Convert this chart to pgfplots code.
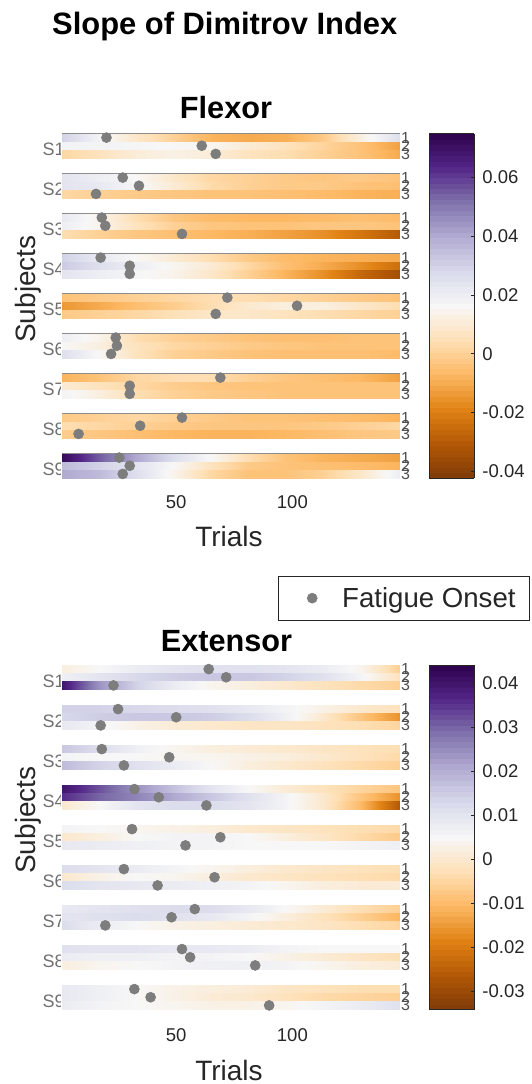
\documentclass[border=0pt]{standalone}
\usepackage{pgfplots}
\pgfplotsset{compat=1.18}
\usetikzlibrary{calc}
\usepackage{fontspec}
\setmainfont{Liberation Sans}
\definecolor{framegray}{HTML}{8C8C8C}
\definecolor{labgray}{HTML}{707070}
\definecolor{numgray}{HTML}{505050}
\definecolor{axtext}{HTML}{262626}
\definecolor{dotgray}{HTML}{7D7D7D}
\pgfplotsset{
  /pgf/number format/assume math mode=true,
  colormap={puor}{rgb255=(127,59,8) rgb255=(179,88,6) rgb255=(224,130,20) rgb255=(253,184,99) rgb255=(254,224,182) rgb255=(247,247,247) rgb255=(216,218,235) rgb255=(178,171,210) rgb255=(128,115,172) rgb255=(84,39,136) rgb255=(45,0,75)},
  subj/.style={
    anchor=north west, scale only axis, width=337pt, height=24.5pt,
    xmin=1, xmax=146, ymin=0.5, ymax=3.5, y dir=reverse,
    xtick=\empty, ytick={1,2,3}, ytick pos=right, yticklabel pos=right,
    tick align=inside, major tick length=2pt,
    axis line style={draw=framegray, line width=0.8pt},
    tick style={draw=framegray, line width=0.6pt},
    yticklabel style={font=\fontsize{16}{16}\selectfont, text=numgray, anchor=west, inner sep=0pt, xshift=1.5pt},
    clip=false, colormap name=puor,
  },
  lastsubj/.style={
    xtick={50,100}, xtick pos=bottom,
    xticklabel style={font=\fontsize{18.5}{18.5}\selectfont, text=axtext, anchor=base, inner sep=0pt, yshift=#1},
    x tick style={draw=axtext, line width=0.6pt}, major tick length=3pt,
  },
  hm/.style={surf, shader=interp, mesh/cols=10, point meta=explicit, forget plot},
  dots/.style={only marks, mark=*, mark size=5pt, color=dotgray, line width=0.6pt},
  flexrange/.style={point meta min=-0.0423, point meta max=0.0749},
  extrange/.style={point meta min=-0.0342, point meta max=0.0442},
  cbar/.style={
    colorbar sampled,
    colorbar style={
      samples=64,
      at={($(parent axis.north east)+(21.4pt,0pt)$)}, anchor=north west,
      scale only axis, width=45pt, height=344.5pt,
      scaled y ticks=false,
      axis line style={draw=axtext, line width=0.8pt},
      ytick pos=right, yticklabel pos=right, tick align=inside, major tick length=3pt,
      tick style={draw=axtext, line width=0.6pt},
      yticklabel style={font=\fontsize{18.5}{18.5}\selectfont, text=axtext, anchor=west, inner sep=0pt, xshift=8pt},
      #1
    }
  },
}
\begin{document}
\begin{tikzpicture}
\useasboundingbox (0,0) rectangle (531pt,-1084pt);
% titles and labels
\node[anchor=base west, inner sep=0pt, font=\fontsize{30.9}{36}\selectfont\bfseries] at (52pt,-34.5pt) {Slope of Dimitrov Index};
\node[anchor=base, inner sep=0pt, font=\fontsize{30.7}{36}\selectfont\bfseries] at (226pt,-118.3pt) {Flexor};
\node[anchor=base, inner sep=0pt, font=\fontsize{30.7}{36}\selectfont\bfseries] at (226.5pt,-651.7pt) {Extensor};
\node[anchor=base, inner sep=0pt, rotate=90, text=axtext, font=\fontsize{28}{30}\selectfont] at (35pt,-289pt) {Subjects};
\node[anchor=base, inner sep=0pt, rotate=90, text=axtext, font=\fontsize{28}{30}\selectfont] at (35pt,-820pt) {Subjects};
\node[anchor=base, inner sep=0pt, text=axtext, font=\fontsize{28}{30}\selectfont] at (229pt,-546.5pt) {Trials};
\node[anchor=base, inner sep=0pt, text=axtext, font=\fontsize{28}{30}\selectfont] at (229pt,-1080pt) {Trials};
\begin{scope}
\clip (0,0) rectangle (60pt,-1084pt);
\foreach \k in {1,...,9} {
  \node[anchor=base west, inner sep=0pt, text=labgray, font=\fontsize{18}{18}\selectfont] at (42.5pt,{-(155.75+40*(\k-1))*1pt}) {S\k};
  \node[anchor=base west, inner sep=0pt, text=labgray, font=\fontsize{18}{18}\selectfont] at (42.5pt,{-(687.25+40*(\k-1))*1pt}) {S\k};
}
\end{scope}

%% ================= FLEXOR =================
\begin{axis}[subj, flexrange, at={(62.3pt,-133.5pt)},
  cbar={ytick={-0.04,-0.02,0,0.02,0.04,0.06}, yticklabels={-0.04,-0.02,0,0.02,0.04,0.06}}]
\addplot[hm] coordinates {
(1,0.5)[0.030] (17,0.5)[0.018] (33,0.5)[0.008] (49,0.5)[0.000] (65,0.5)[-0.008] (81,0.5)[-0.010] (97,0.5)[-0.009] (113,0.5)[-0.002] (129,0.5)[0.012] (146,0.5)[0.026]
(1,1.5)[0.030] (17,1.5)[0.018] (33,1.5)[0.008] (49,1.5)[0.000] (65,1.5)[-0.008] (81,1.5)[-0.010] (97,1.5)[-0.009] (113,1.5)[-0.002] (129,1.5)[0.012] (146,1.5)[0.026]
(1,1.5)[0.018] (17,1.5)[0.018] (33,1.5)[0.017] (49,1.5)[0.016] (65,1.5)[0.015] (81,1.5)[0.010] (97,1.5)[0.006] (113,1.5)[0.001] (129,1.5)[-0.004] (146,1.5)[-0.012]
(1,2.5)[0.018] (17,2.5)[0.018] (33,2.5)[0.017] (49,2.5)[0.016] (65,2.5)[0.015] (81,2.5)[0.010] (97,2.5)[0.006] (113,2.5)[0.001] (129,2.5)[-0.004] (146,2.5)[-0.012]
(1,2.5)[0.002] (17,2.5)[0.006] (33,2.5)[0.011] (49,2.5)[0.013] (65,2.5)[0.011] (81,2.5)[0.006] (97,2.5)[0.004] (113,2.5)[0.000] (129,2.5)[-0.004] (146,2.5)[-0.010]
(1,3.5)[0.002] (17,3.5)[0.006] (33,3.5)[0.011] (49,3.5)[0.013] (65,3.5)[0.011] (81,3.5)[0.006] (97,3.5)[0.004] (113,3.5)[0.000] (129,3.5)[-0.004] (146,3.5)[-0.010]
};
\addplot[dots] coordinates {(20,1) (61,2) (67,3)};
\end{axis}

\begin{axis}[subj, flexrange, at={(62.3pt,-173.5pt)}]
\addplot[hm] coordinates {
(1,0.5)[0.024] (17,0.5)[0.020] (33,0.5)[0.016] (49,0.5)[0.008] (65,0.5)[0.002] (81,0.5)[0.000] (97,0.5)[-0.002] (113,0.5)[-0.003] (129,0.5)[-0.002] (146,0.5)[-0.004]
(1,1.5)[0.024] (17,1.5)[0.020] (33,1.5)[0.016] (49,1.5)[0.008] (65,1.5)[0.002] (81,1.5)[0.000] (97,1.5)[-0.002] (113,1.5)[-0.003] (129,1.5)[-0.002] (146,1.5)[-0.004]
(1,1.5)[0.024] (17,1.5)[0.022] (33,1.5)[0.017] (49,1.5)[0.010] (65,1.5)[0.003] (81,1.5)[0.000] (97,1.5)[-0.002] (113,1.5)[-0.002] (129,1.5)[-0.004] (146,1.5)[-0.005]
(1,2.5)[0.024] (17,2.5)[0.022] (33,2.5)[0.017] (49,2.5)[0.010] (65,2.5)[0.003] (81,2.5)[0.000] (97,2.5)[-0.002] (113,2.5)[-0.002] (129,2.5)[-0.004] (146,2.5)[-0.005]
(1,2.5)[0.002] (17,2.5)[0.000] (33,2.5)[-0.002] (49,2.5)[-0.003] (65,2.5)[-0.004] (81,2.5)[-0.004] (97,2.5)[-0.005] (113,2.5)[-0.006] (129,2.5)[-0.008] (146,2.5)[-0.009]
(1,3.5)[0.002] (17,3.5)[0.000] (33,3.5)[-0.002] (49,3.5)[-0.003] (65,3.5)[-0.004] (81,3.5)[-0.004] (97,3.5)[-0.005] (113,3.5)[-0.006] (129,3.5)[-0.008] (146,3.5)[-0.009]
};
\addplot[dots] coordinates {(27,1) (34,2) (15.5,3)};
\end{axis}

\begin{axis}[subj, flexrange, at={(62.3pt,-213.5pt)}]
\addplot[hm] coordinates {
(1,0.5)[0.022] (17,0.5)[0.014] (33,0.5)[0.004] (49,0.5)[-0.003] (65,0.5)[-0.006] (81,0.5)[-0.007] (97,0.5)[-0.007] (113,0.5)[-0.006] (129,0.5)[-0.005] (146,0.5)[-0.006]
(1,1.5)[0.022] (17,1.5)[0.014] (33,1.5)[0.004] (49,1.5)[-0.003] (65,1.5)[-0.006] (81,1.5)[-0.007] (97,1.5)[-0.007] (113,1.5)[-0.006] (129,1.5)[-0.005] (146,1.5)[-0.006]
(1,1.5)[0.020] (17,1.5)[0.014] (33,1.5)[0.006] (49,1.5)[0.000] (65,1.5)[-0.003] (81,1.5)[-0.004] (97,1.5)[-0.004] (113,1.5)[-0.003] (129,1.5)[-0.003] (146,1.5)[-0.004]
(1,2.5)[0.020] (17,2.5)[0.014] (33,2.5)[0.006] (49,2.5)[0.000] (65,2.5)[-0.003] (81,2.5)[-0.004] (97,2.5)[-0.004] (113,2.5)[-0.003] (129,2.5)[-0.003] (146,2.5)[-0.004]
(1,2.5)[0.004] (17,2.5)[0.000] (33,2.5)[-0.003] (49,2.5)[-0.005] (65,2.5)[-0.007] (81,2.5)[-0.009] (97,2.5)[-0.012] (113,2.5)[-0.016] (129,2.5)[-0.022] (146,2.5)[-0.030]
(1,3.5)[0.004] (17,3.5)[0.000] (33,3.5)[-0.003] (49,3.5)[-0.005] (65,3.5)[-0.007] (81,3.5)[-0.009] (97,3.5)[-0.012] (113,3.5)[-0.016] (129,3.5)[-0.022] (146,3.5)[-0.030]
};
\addplot[dots] coordinates {(18,1) (19.5,2) (52.5,3)};
\end{axis}

\begin{axis}[subj, flexrange, at={(62.3pt,-253.5pt)}]
\addplot[hm] coordinates {
(1,0.5)[0.030] (17,0.5)[0.022] (33,0.5)[0.016] (49,0.5)[0.010] (65,0.5)[0.004] (81,0.5)[-0.002] (97,0.5)[-0.006] (113,0.5)[-0.008] (129,0.5)[-0.009] (146,0.5)[-0.010]
(1,1.5)[0.030] (17,1.5)[0.022] (33,1.5)[0.016] (49,1.5)[0.010] (65,1.5)[0.004] (81,1.5)[-0.002] (97,1.5)[-0.006] (113,1.5)[-0.008] (129,1.5)[-0.009] (146,1.5)[-0.010]
(1,1.5)[0.032] (17,1.5)[0.026] (33,1.5)[0.020] (49,1.5)[0.015] (65,1.5)[0.010] (81,1.5)[0.002] (97,1.5)[-0.005] (113,1.5)[-0.010] (129,1.5)[-0.016] (146,1.5)[-0.024]
(1,2.5)[0.032] (17,2.5)[0.026] (33,2.5)[0.020] (49,2.5)[0.015] (65,2.5)[0.010] (81,2.5)[0.002] (97,2.5)[-0.005] (113,2.5)[-0.010] (129,2.5)[-0.016] (146,2.5)[-0.024]
(1,2.5)[0.024] (17,2.5)[0.020] (33,2.5)[0.017] (49,2.5)[0.014] (65,2.5)[0.008] (81,2.5)[0.000] (97,2.5)[-0.008] (113,2.5)[-0.016] (129,2.5)[-0.026] (146,2.5)[-0.034]
(1,3.5)[0.024] (17,3.5)[0.020] (33,3.5)[0.017] (49,3.5)[0.014] (65,3.5)[0.008] (81,3.5)[0.000] (97,3.5)[-0.008] (113,3.5)[-0.016] (129,3.5)[-0.026] (146,3.5)[-0.034]
};
\addplot[dots] coordinates {(17.5,1) (30,2) (30,3)};
\end{axis}

\begin{axis}[subj, flexrange, at={(62.3pt,-293.5pt)}]
\addplot[hm] coordinates {
(1,0.5)[-0.004] (17,0.5)[-0.002] (33,0.5)[0.000] (49,0.5)[0.002] (65,0.5)[0.004] (81,0.5)[0.004] (97,0.5)[0.002] (113,0.5)[0.000] (129,0.5)[-0.002] (146,0.5)[-0.004]
(1,1.5)[-0.004] (17,1.5)[-0.002] (33,1.5)[0.000] (49,1.5)[0.002] (65,1.5)[0.004] (81,1.5)[0.004] (97,1.5)[0.002] (113,1.5)[0.000] (129,1.5)[-0.002] (146,1.5)[-0.004]
(1,1.5)[-0.014] (17,1.5)[-0.010] (33,1.5)[-0.005] (49,1.5)[-0.001] (65,1.5)[0.004] (81,1.5)[0.009] (97,1.5)[0.012] (113,1.5)[0.012] (129,1.5)[0.008] (146,1.5)[0.004]
(1,2.5)[-0.014] (17,2.5)[-0.010] (33,2.5)[-0.005] (49,2.5)[-0.001] (65,2.5)[0.004] (81,2.5)[0.009] (97,2.5)[0.012] (113,2.5)[0.012] (129,2.5)[0.008] (146,2.5)[0.004]
(1,2.5)[-0.002] (17,2.5)[0.000] (33,2.5)[0.002] (49,2.5)[0.005] (65,2.5)[0.008] (81,2.5)[0.008] (97,2.5)[0.006] (113,2.5)[0.004] (129,2.5)[0.002] (146,2.5)[0.000]
(1,3.5)[-0.002] (17,3.5)[0.000] (33,3.5)[0.002] (49,3.5)[0.005] (65,3.5)[0.008] (81,3.5)[0.008] (97,3.5)[0.006] (113,3.5)[0.004] (129,3.5)[0.002] (146,3.5)[0.000]
};
\addplot[dots] coordinates {(72,1) (102,2) (67,3)};
\end{axis}

\begin{axis}[subj, flexrange, at={(62.3pt,-333.5pt)}]
\addplot[hm] coordinates {
(1,0.5)[0.020] (17,0.5)[0.014] (33,0.5)[0.004] (49,0.5)[0.000] (65,0.5)[-0.002] (81,0.5)[-0.004] (97,0.5)[-0.005] (113,0.5)[-0.005] (129,0.5)[-0.004] (146,0.5)[-0.004]
(1,1.5)[0.020] (17,1.5)[0.014] (33,1.5)[0.004] (49,1.5)[0.000] (65,1.5)[-0.002] (81,1.5)[-0.004] (97,1.5)[-0.005] (113,1.5)[-0.005] (129,1.5)[-0.004] (146,1.5)[-0.004]
(1,1.5)[0.016] (17,1.5)[0.012] (33,1.5)[0.006] (49,1.5)[0.002] (65,1.5)[0.000] (81,1.5)[-0.002] (97,1.5)[-0.003] (113,1.5)[-0.004] (129,1.5)[-0.004] (146,1.5)[-0.004]
(1,2.5)[0.016] (17,2.5)[0.012] (33,2.5)[0.006] (49,2.5)[0.002] (65,2.5)[0.000] (81,2.5)[-0.002] (97,2.5)[-0.003] (113,2.5)[-0.004] (129,2.5)[-0.004] (146,2.5)[-0.004]
(1,2.5)[0.026] (17,2.5)[0.016] (33,2.5)[0.006] (49,2.5)[0.000] (65,2.5)[-0.002] (81,2.5)[-0.004] (97,2.5)[-0.005] (113,2.5)[-0.005] (129,2.5)[-0.005] (146,2.5)[-0.006]
(1,3.5)[0.026] (17,3.5)[0.016] (33,3.5)[0.006] (49,3.5)[0.000] (65,3.5)[-0.002] (81,3.5)[-0.004] (97,3.5)[-0.005] (113,3.5)[-0.005] (129,3.5)[-0.005] (146,3.5)[-0.006]
};
\addplot[dots] coordinates {(24,1) (24.5,2) (22,3)};
\end{axis}

\begin{axis}[subj, flexrange, at={(62.3pt,-373.5pt)}]
\addplot[hm] coordinates {
(1,0.5)[-0.008] (17,0.5)[-0.004] (33,0.5)[0.002] (49,0.5)[0.004] (65,0.5)[0.004] (81,0.5)[0.000] (97,0.5)[-0.003] (113,0.5)[-0.005] (129,0.5)[-0.007] (146,0.5)[-0.012]
(1,1.5)[-0.008] (17,1.5)[-0.004] (33,1.5)[0.002] (49,1.5)[0.004] (65,1.5)[0.004] (81,1.5)[0.000] (97,1.5)[-0.003] (113,1.5)[-0.005] (129,1.5)[-0.007] (146,1.5)[-0.012]
(1,1.5)[0.010] (17,1.5)[0.006] (33,1.5)[0.002] (49,1.5)[-0.001] (65,1.5)[-0.003] (81,1.5)[-0.004] (97,1.5)[-0.004] (113,1.5)[-0.004] (129,1.5)[-0.004] (146,1.5)[-0.004]
(1,2.5)[0.010] (17,2.5)[0.006] (33,2.5)[0.002] (49,2.5)[-0.001] (65,2.5)[-0.003] (81,2.5)[-0.004] (97,2.5)[-0.004] (113,2.5)[-0.004] (129,2.5)[-0.004] (146,2.5)[-0.004]
(1,2.5)[0.018] (17,2.5)[0.012] (33,2.5)[0.004] (49,2.5)[0.000] (65,2.5)[-0.002] (81,2.5)[-0.003] (97,2.5)[-0.004] (113,2.5)[-0.004] (129,2.5)[-0.004] (146,2.5)[-0.004]
(1,3.5)[0.018] (17,3.5)[0.012] (33,3.5)[0.004] (49,3.5)[0.000] (65,3.5)[-0.002] (81,3.5)[-0.003] (97,3.5)[-0.004] (113,3.5)[-0.004] (129,3.5)[-0.004] (146,3.5)[-0.004]
};
\addplot[dots] coordinates {(69,1) (30,2) (30,3)};
\end{axis}

\begin{axis}[subj, flexrange, at={(62.3pt,-413.5pt)}]
\addplot[hm] coordinates {
(1,0.5)[-0.002] (17,0.5)[0.000] (33,0.5)[0.002] (49,0.5)[0.000] (65,0.5)[-0.002] (81,0.5)[-0.004] (97,0.5)[-0.004] (113,0.5)[-0.005] (129,0.5)[-0.006] (146,0.5)[-0.008]
(1,1.5)[-0.002] (17,1.5)[0.000] (33,1.5)[0.002] (49,1.5)[0.000] (65,1.5)[-0.002] (81,1.5)[-0.004] (97,1.5)[-0.004] (113,1.5)[-0.005] (129,1.5)[-0.006] (146,1.5)[-0.008]
(1,1.5)[0.004] (17,1.5)[0.002] (33,1.5)[0.000] (49,1.5)[-0.002] (65,1.5)[-0.003] (81,1.5)[-0.003] (97,1.5)[-0.003] (113,1.5)[-0.002] (129,1.5)[0.000] (146,1.5)[0.002]
(1,2.5)[0.004] (17,2.5)[0.002] (33,2.5)[0.000] (49,2.5)[-0.002] (65,2.5)[-0.003] (81,2.5)[-0.003] (97,2.5)[-0.003] (113,2.5)[-0.002] (129,2.5)[0.000] (146,2.5)[0.002]
(1,2.5)[-0.001] (17,2.5)[-0.003] (33,2.5)[-0.005] (49,2.5)[-0.007] (65,2.5)[-0.008] (81,2.5)[-0.008] (97,2.5)[-0.007] (113,2.5)[-0.005] (129,2.5)[-0.003] (146,2.5)[-0.002]
(1,3.5)[-0.001] (17,3.5)[-0.003] (33,3.5)[-0.005] (49,3.5)[-0.007] (65,3.5)[-0.008] (81,3.5)[-0.008] (97,3.5)[-0.007] (113,3.5)[-0.005] (129,3.5)[-0.003] (146,3.5)[-0.002]
};
\addplot[dots] coordinates {(52.5,1) (34.5,2) (8,3)};
\end{axis}

\begin{axis}[subj, flexrange, lastsubj=-30.3pt, at={(62.3pt,-453.5pt)}]
\addplot[hm] coordinates {
(1,0.5)[0.072] (17,0.5)[0.055] (33,0.5)[0.040] (49,0.5)[0.026] (65,0.5)[0.016] (81,0.5)[0.004] (97,0.5)[-0.004] (113,0.5)[-0.008] (129,0.5)[-0.010] (146,0.5)[-0.012]
(1,1.5)[0.072] (17,1.5)[0.055] (33,1.5)[0.040] (49,1.5)[0.026] (65,1.5)[0.016] (81,1.5)[0.004] (97,1.5)[-0.004] (113,1.5)[-0.008] (129,1.5)[-0.010] (146,1.5)[-0.012]
(1,1.5)[0.036] (17,1.5)[0.030] (33,1.5)[0.024] (49,1.5)[0.016] (65,1.5)[0.006] (81,1.5)[-0.002] (97,1.5)[-0.004] (113,1.5)[-0.005] (129,1.5)[-0.006] (146,1.5)[-0.008]
(1,2.5)[0.036] (17,2.5)[0.030] (33,2.5)[0.024] (49,2.5)[0.016] (65,2.5)[0.006] (81,2.5)[-0.002] (97,2.5)[-0.004] (113,2.5)[-0.005] (129,2.5)[-0.006] (146,2.5)[-0.008]
(1,2.5)[0.040] (17,2.5)[0.036] (33,2.5)[0.026] (49,2.5)[0.014] (65,2.5)[0.002] (81,2.5)[-0.004] (97,2.5)[-0.004] (113,2.5)[0.000] (129,2.5)[0.008] (146,2.5)[0.020]
(1,3.5)[0.040] (17,3.5)[0.036] (33,3.5)[0.026] (49,3.5)[0.014] (65,3.5)[0.002] (81,3.5)[-0.004] (97,3.5)[-0.004] (113,3.5)[0.000] (129,3.5)[0.008] (146,3.5)[0.020]
};
\addplot[dots] coordinates {(25.5,1) (30,2) (27,3)};
\end{axis}

%% ================= EXTENSOR =================
\begin{axis}[subj, extrange, at={(62.3pt,-665pt)},
  cbar={ytick={-0.03,-0.02,-0.01,0,0.01,0.02,0.03,0.04}, yticklabels={-0.03,-0.02,-0.01,0,0.01,0.02,0.03,0.04}},
  legend style={at={(1.3878,4.6327)}, anchor=north east, draw=axtext, line width=0.8pt, fill=white,
    font=\fontsize{27.6}{30}\selectfont, text=axtext, inner xsep=14pt, inner ysep=11pt, column sep=10pt, nodes={inner sep=0pt}},
  legend image code/.code={\path[draw=none, fill=none] (0pt,-6pt) rectangle (40pt,6pt); \draw[#1] plot coordinates {(20pt,0pt)};}]
\addplot[hm] coordinates {
(1,0.5)[0.002] (17,0.5)[0.005] (33,0.5)[0.008] (49,0.5)[0.010] (65,0.5)[0.011] (81,0.5)[0.011] (97,0.5)[0.010] (113,0.5)[0.008] (129,0.5)[0.004] (146,0.5)[-0.006]
(1,1.5)[0.002] (17,1.5)[0.005] (33,1.5)[0.008] (49,1.5)[0.010] (65,1.5)[0.011] (81,1.5)[0.011] (97,1.5)[0.010] (113,1.5)[0.008] (129,1.5)[0.004] (146,1.5)[-0.006]
(1,1.5)[0.007] (17,1.5)[0.010] (33,1.5)[0.013] (49,1.5)[0.015] (65,1.5)[0.016] (81,1.5)[0.016] (97,1.5)[0.014] (113,1.5)[0.011] (129,1.5)[0.006] (146,1.5)[-0.002]
(1,2.5)[0.007] (17,2.5)[0.010] (33,2.5)[0.013] (49,2.5)[0.015] (65,2.5)[0.016] (81,2.5)[0.016] (97,2.5)[0.014] (113,2.5)[0.011] (129,2.5)[0.006] (146,2.5)[-0.002]
(1,2.5)[0.040] (17,2.5)[0.024] (33,2.5)[0.014] (49,2.5)[0.008] (65,2.5)[0.004] (81,2.5)[0.002] (97,2.5)[0.000] (113,2.5)[-0.002] (129,2.5)[-0.004] (146,2.5)[-0.006]
(1,3.5)[0.040] (17,3.5)[0.024] (33,3.5)[0.014] (49,3.5)[0.008] (65,3.5)[0.004] (81,3.5)[0.002] (97,3.5)[0.000] (113,3.5)[-0.002] (129,3.5)[-0.004] (146,3.5)[-0.006]
};
\addplot[dots] coordinates {(64,1) (71.5,2) (23,3)};
\addlegendentry{Fatigue Onset}
\end{axis}

\begin{axis}[subj, extrange, at={(62.3pt,-705pt)}]
\addplot[hm] coordinates {
(1,0.5)[0.014] (17,0.5)[0.014] (33,0.5)[0.013] (49,0.5)[0.012] (65,0.5)[0.011] (81,0.5)[0.009] (97,0.5)[0.006] (113,0.5)[0.003] (129,0.5)[0.000] (146,0.5)[-0.002]
(1,1.5)[0.014] (17,1.5)[0.014] (33,1.5)[0.013] (49,1.5)[0.012] (65,1.5)[0.011] (81,1.5)[0.009] (97,1.5)[0.006] (113,1.5)[0.003] (129,1.5)[0.000] (146,1.5)[-0.002]
(1,1.5)[0.013] (17,1.5)[0.015] (33,1.5)[0.016] (49,1.5)[0.016] (65,1.5)[0.015] (81,1.5)[0.012] (97,1.5)[0.007] (113,1.5)[0.000] (129,1.5)[-0.008] (146,1.5)[-0.016]
(1,2.5)[0.013] (17,2.5)[0.015] (33,2.5)[0.016] (49,2.5)[0.016] (65,2.5)[0.015] (81,2.5)[0.012] (97,2.5)[0.007] (113,2.5)[0.000] (129,2.5)[-0.008] (146,2.5)[-0.016]
(1,2.5)[0.009] (17,2.5)[0.006] (33,2.5)[0.003] (49,2.5)[0.001] (65,2.5)[0.000] (81,2.5)[-0.001] (97,2.5)[-0.001] (113,2.5)[-0.002] (129,2.5)[-0.003] (146,2.5)[-0.005]
(1,3.5)[0.009] (17,3.5)[0.006] (33,3.5)[0.003] (49,3.5)[0.001] (65,3.5)[0.000] (81,3.5)[-0.001] (97,3.5)[-0.001] (113,3.5)[-0.002] (129,3.5)[-0.003] (146,3.5)[-0.005]
};
\addplot[dots] coordinates {(25,1) (50,2) (17.5,3)};
\end{axis}

\begin{axis}[subj, extrange, at={(62.3pt,-745pt)}]
\addplot[hm] coordinates {
(1,0.5)[0.016] (17,0.5)[0.012] (33,0.5)[0.007] (49,0.5)[0.004] (65,0.5)[0.002] (81,0.5)[0.001] (97,0.5)[0.000] (113,0.5)[-0.001] (129,0.5)[-0.002] (146,0.5)[-0.003]
(1,1.5)[0.016] (17,1.5)[0.012] (33,1.5)[0.007] (49,1.5)[0.004] (65,1.5)[0.002] (81,1.5)[0.001] (97,1.5)[0.000] (113,1.5)[-0.001] (129,1.5)[-0.002] (146,1.5)[-0.003]
(1,1.5)[0.006] (17,1.5)[0.005] (33,1.5)[0.005] (49,1.5)[0.004] (65,1.5)[0.004] (81,1.5)[0.003] (97,1.5)[0.002] (113,1.5)[0.000] (129,1.5)[-0.002] (146,1.5)[-0.004]
(1,2.5)[0.006] (17,2.5)[0.005] (33,2.5)[0.005] (49,2.5)[0.004] (65,2.5)[0.004] (81,2.5)[0.003] (97,2.5)[0.002] (113,2.5)[0.000] (129,2.5)[-0.002] (146,2.5)[-0.004]
(1,2.5)[0.018] (17,2.5)[0.014] (33,2.5)[0.011] (49,2.5)[0.008] (65,2.5)[0.005] (81,2.5)[0.002] (97,2.5)[0.000] (113,2.5)[-0.002] (129,2.5)[-0.004] (146,2.5)[-0.006]
(1,3.5)[0.018] (17,3.5)[0.014] (33,3.5)[0.011] (49,3.5)[0.008] (65,3.5)[0.005] (81,3.5)[0.002] (97,3.5)[0.000] (113,3.5)[-0.002] (129,3.5)[-0.004] (146,3.5)[-0.006]
};
\addplot[dots] coordinates {(18,1) (47,2) (27.5,3)};
\end{axis}

\begin{axis}[subj, extrange, at={(62.3pt,-785pt)}]
\addplot[hm] coordinates {
(1,0.5)[0.040] (17,0.5)[0.032] (33,0.5)[0.024] (49,0.5)[0.017] (65,0.5)[0.010] (81,0.5)[0.005] (97,0.5)[0.001] (113,0.5)[-0.002] (129,0.5)[-0.005] (146,0.5)[-0.008]
(1,1.5)[0.040] (17,1.5)[0.032] (33,1.5)[0.024] (49,1.5)[0.017] (65,1.5)[0.010] (81,1.5)[0.005] (97,1.5)[0.001] (113,1.5)[-0.002] (129,1.5)[-0.005] (146,1.5)[-0.008]
(1,1.5)[0.036] (17,1.5)[0.030] (33,1.5)[0.026] (49,1.5)[0.021] (65,1.5)[0.016] (81,1.5)[0.011] (97,1.5)[0.006] (113,1.5)[0.000] (129,1.5)[-0.008] (146,1.5)[-0.016]
(1,2.5)[0.036] (17,2.5)[0.030] (33,2.5)[0.026] (49,2.5)[0.021] (65,2.5)[0.016] (81,2.5)[0.011] (97,2.5)[0.006] (113,2.5)[0.000] (129,2.5)[-0.008] (146,2.5)[-0.016]
(1,2.5)[0.000] (17,2.5)[0.005] (33,2.5)[0.010] (49,2.5)[0.012] (65,2.5)[0.012] (81,2.5)[0.010] (97,2.5)[0.006] (113,2.5)[0.000] (129,2.5)[-0.010] (146,2.5)[-0.026]
(1,3.5)[0.000] (17,3.5)[0.005] (33,3.5)[0.010] (49,3.5)[0.012] (65,3.5)[0.012] (81,3.5)[0.010] (97,3.5)[0.006] (113,3.5)[0.000] (129,3.5)[-0.010] (146,3.5)[-0.026]
};
\addplot[dots] coordinates {(32,1) (42.5,2) (63,3)};
\end{axis}

\begin{axis}[subj, extrange, at={(62.3pt,-825pt)}]
\addplot[hm] coordinates {
(1,0.5)[0.006] (17,0.5)[0.005] (33,0.5)[0.004] (49,0.5)[0.003] (65,0.5)[0.002] (81,0.5)[0.000] (97,0.5)[-0.001] (113,0.5)[-0.002] (129,0.5)[-0.003] (146,0.5)[-0.004]
(1,1.5)[0.006] (17,1.5)[0.005] (33,1.5)[0.004] (49,1.5)[0.003] (65,1.5)[0.002] (81,1.5)[0.000] (97,1.5)[-0.001] (113,1.5)[-0.002] (129,1.5)[-0.003] (146,1.5)[-0.004]
(1,1.5)[0.000] (17,1.5)[0.002] (33,1.5)[0.005] (49,1.5)[0.006] (65,1.5)[0.006] (81,1.5)[0.005] (97,1.5)[0.002] (113,1.5)[-0.001] (129,1.5)[-0.004] (146,1.5)[-0.007]
(1,2.5)[0.000] (17,2.5)[0.002] (33,2.5)[0.005] (49,2.5)[0.006] (65,2.5)[0.006] (81,2.5)[0.005] (97,2.5)[0.002] (113,2.5)[-0.001] (129,2.5)[-0.004] (146,2.5)[-0.007]
(1,2.5)[0.009] (17,2.5)[0.008] (33,2.5)[0.007] (49,2.5)[0.006] (65,2.5)[0.006] (81,2.5)[0.005] (97,2.5)[0.005] (113,2.5)[0.005] (129,2.5)[0.006] (146,2.5)[0.007]
(1,3.5)[0.009] (17,3.5)[0.008] (33,3.5)[0.007] (49,3.5)[0.006] (65,3.5)[0.006] (81,3.5)[0.005] (97,3.5)[0.005] (113,3.5)[0.005] (129,3.5)[0.006] (146,3.5)[0.007]
};
\addplot[dots] coordinates {(31,1) (69,2) (54,3)};
\end{axis}

\begin{axis}[subj, extrange, at={(62.3pt,-865pt)}]
\addplot[hm] coordinates {
(1,0.5)[0.012] (17,0.5)[0.010] (33,0.5)[0.008] (49,0.5)[0.006] (65,0.5)[0.004] (81,0.5)[0.002] (97,0.5)[0.000] (113,0.5)[-0.001] (129,0.5)[-0.002] (146,0.5)[-0.003]
(1,1.5)[0.012] (17,1.5)[0.010] (33,1.5)[0.008] (49,1.5)[0.006] (65,1.5)[0.004] (81,1.5)[0.002] (97,1.5)[0.000] (113,1.5)[-0.001] (129,1.5)[-0.002] (146,1.5)[-0.003]
(1,1.5)[0.000] (17,1.5)[0.003] (33,1.5)[0.005] (49,1.5)[0.004] (65,1.5)[0.002] (81,1.5)[0.000] (97,1.5)[-0.001] (113,1.5)[-0.002] (129,1.5)[-0.003] (146,1.5)[-0.004]
(1,2.5)[0.000] (17,2.5)[0.003] (33,2.5)[0.005] (49,2.5)[0.004] (65,2.5)[0.002] (81,2.5)[0.000] (97,2.5)[-0.001] (113,2.5)[-0.002] (129,2.5)[-0.003] (146,2.5)[-0.004]
(1,2.5)[0.012] (17,2.5)[0.010] (33,2.5)[0.009] (49,2.5)[0.008] (65,2.5)[0.007] (81,2.5)[0.006] (97,2.5)[0.004] (113,2.5)[0.002] (129,2.5)[0.001] (146,2.5)[0.001]
(1,3.5)[0.012] (17,3.5)[0.010] (33,3.5)[0.009] (49,3.5)[0.008] (65,3.5)[0.007] (81,3.5)[0.006] (97,3.5)[0.004] (113,3.5)[0.002] (129,3.5)[0.001] (146,3.5)[0.001]
};
\addplot[dots] coordinates {(27.5,1) (66.5,2) (42,3)};
\end{axis}

\begin{axis}[subj, extrange, at={(62.3pt,-905pt)}]
\addplot[hm] coordinates {
(1,0.5)[0.009] (17,0.5)[0.010] (33,0.5)[0.011] (49,0.5)[0.012] (65,0.5)[0.012] (81,0.5)[0.009] (97,0.5)[0.005] (113,0.5)[0.001] (129,0.5)[-0.003] (146,0.5)[-0.006]
(1,1.5)[0.009] (17,1.5)[0.010] (33,1.5)[0.011] (49,1.5)[0.012] (65,1.5)[0.012] (81,1.5)[0.009] (97,1.5)[0.005] (113,1.5)[0.001] (129,1.5)[-0.003] (146,1.5)[-0.006]
(1,1.5)[0.010] (17,1.5)[0.011] (33,1.5)[0.012] (49,1.5)[0.011] (65,1.5)[0.009] (81,1.5)[0.006] (97,1.5)[0.002] (113,1.5)[-0.002] (129,1.5)[-0.006] (146,1.5)[-0.011]
(1,2.5)[0.010] (17,2.5)[0.011] (33,2.5)[0.012] (49,2.5)[0.011] (65,2.5)[0.009] (81,2.5)[0.006] (97,2.5)[0.002] (113,2.5)[-0.002] (129,2.5)[-0.006] (146,2.5)[-0.011]
(1,2.5)[0.012] (17,2.5)[0.008] (33,2.5)[0.005] (49,2.5)[0.003] (65,2.5)[0.002] (81,2.5)[0.001] (97,2.5)[0.000] (113,2.5)[-0.001] (129,2.5)[-0.003] (146,2.5)[-0.005]
(1,3.5)[0.012] (17,3.5)[0.008] (33,3.5)[0.005] (49,3.5)[0.003] (65,3.5)[0.002] (81,3.5)[0.001] (97,3.5)[0.000] (113,3.5)[-0.001] (129,3.5)[-0.003] (146,3.5)[-0.005]
};
\addplot[dots] coordinates {(58,1) (48,2) (19.5,3)};
\end{axis}

\begin{axis}[subj, extrange, at={(62.3pt,-945pt)}]
\addplot[hm] coordinates {
(1,0.5)[0.011] (17,0.5)[0.010] (33,0.5)[0.010] (49,0.5)[0.009] (65,0.5)[0.009] (81,0.5)[0.008] (97,0.5)[0.006] (113,0.5)[0.005] (129,0.5)[0.005] (146,0.5)[0.005]
(1,1.5)[0.011] (17,1.5)[0.010] (33,1.5)[0.010] (49,1.5)[0.009] (65,1.5)[0.009] (81,1.5)[0.008] (97,1.5)[0.006] (113,1.5)[0.005] (129,1.5)[0.005] (146,1.5)[0.005]
(1,1.5)[0.008] (17,1.5)[0.007] (33,1.5)[0.007] (49,1.5)[0.006] (65,1.5)[0.006] (81,1.5)[0.005] (97,1.5)[0.003] (113,1.5)[0.001] (129,1.5)[-0.001] (146,1.5)[-0.003]
(1,2.5)[0.008] (17,2.5)[0.007] (33,2.5)[0.007] (49,2.5)[0.006] (65,2.5)[0.006] (81,2.5)[0.005] (97,2.5)[0.003] (113,2.5)[0.001] (129,2.5)[-0.001] (146,2.5)[-0.003]
(1,2.5)[0.002] (17,2.5)[0.004] (33,2.5)[0.005] (49,2.5)[0.006] (65,2.5)[0.007] (81,2.5)[0.007] (97,2.5)[0.006] (113,2.5)[0.004] (129,2.5)[0.002] (146,2.5)[0.001]
(1,3.5)[0.002] (17,3.5)[0.004] (33,3.5)[0.005] (49,3.5)[0.006] (65,3.5)[0.007] (81,3.5)[0.007] (97,3.5)[0.006] (113,3.5)[0.004] (129,3.5)[0.002] (146,3.5)[0.001]
};
\addplot[dots] coordinates {(52.5,1) (56,2) (84,3)};
\end{axis}

\begin{axis}[subj, extrange, lastsubj=-32.2pt, at={(62.3pt,-985pt)}]
\addplot[hm] coordinates {
(1,0.5)[0.009] (17,0.5)[0.007] (33,0.5)[0.005] (49,0.5)[0.003] (65,0.5)[0.002] (81,0.5)[0.001] (97,0.5)[-0.001] (113,0.5)[-0.002] (129,0.5)[-0.003] (146,0.5)[-0.003]
(1,1.5)[0.009] (17,1.5)[0.007] (33,1.5)[0.005] (49,1.5)[0.003] (65,1.5)[0.002] (81,1.5)[0.001] (97,1.5)[-0.001] (113,1.5)[-0.002] (129,1.5)[-0.003] (146,1.5)[-0.003]
(1,1.5)[0.009] (17,1.5)[0.007] (33,1.5)[0.005] (49,1.5)[0.003] (65,1.5)[0.001] (81,1.5)[0.000] (97,1.5)[-0.002] (113,1.5)[-0.004] (129,1.5)[-0.005] (146,1.5)[-0.006]
(1,2.5)[0.009] (17,2.5)[0.007] (33,2.5)[0.005] (49,2.5)[0.003] (65,2.5)[0.001] (81,2.5)[0.000] (97,2.5)[-0.002] (113,2.5)[-0.004] (129,2.5)[-0.005] (146,2.5)[-0.006]
(1,2.5)[0.008] (17,2.5)[0.006] (33,2.5)[0.005] (49,2.5)[0.004] (65,2.5)[0.003] (81,2.5)[0.003] (97,2.5)[0.004] (113,2.5)[0.006] (129,2.5)[0.008] (146,2.5)[0.011]
(1,3.5)[0.008] (17,3.5)[0.006] (33,3.5)[0.005] (49,3.5)[0.004] (65,3.5)[0.003] (81,3.5)[0.003] (97,3.5)[0.004] (113,3.5)[0.006] (129,3.5)[0.008] (146,3.5)[0.011]
};
\addplot[dots] coordinates {(32,1) (39,2) (90,3)};
\end{axis}
\end{tikzpicture}
\end{document}
